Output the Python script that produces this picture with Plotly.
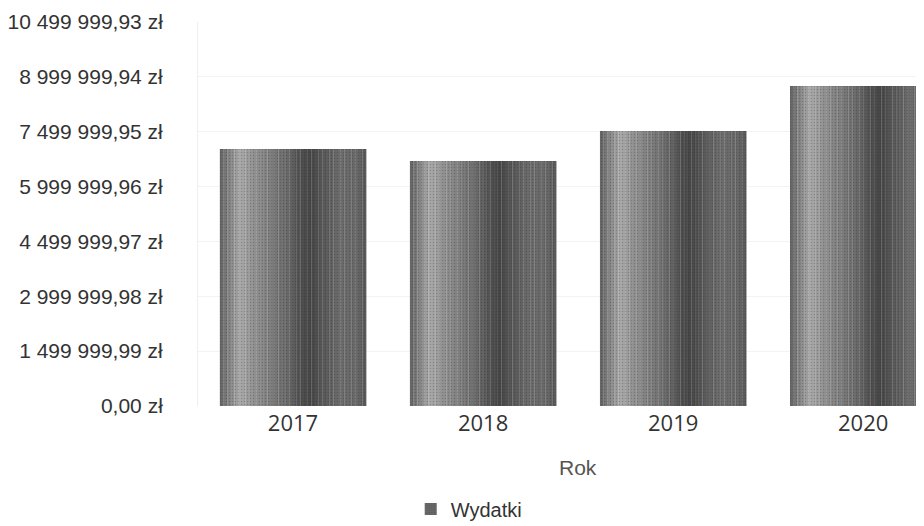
import plotly.graph_objects as go

years = ["2017", "2018", "2019", "2020"]
wydatki = [7030000, 6700000, 7520000, 8750000]
tick_vals = [0, 1499999.99, 2999999.98, 4499999.97, 5999999.96, 7499999.95, 8999999.94, 10499999.93]
tick_text = ["0,00 zł", "1 499 999,99 zł", "2 999 999,98 zł", "4 499 999,97 zł",
             "5 999 999,96 zł", "7 499 999,95 zł", "8 999 999,94 zł", "10 499 999,93 zł"]

# grey shading profile across each bar (position 0..1, grey level)
profile = [(0.0, 0x60), (0.06, 0x84), (0.14, 0xaa), (0.22, 0x94), (0.33, 0x80),
           (0.45, 0x6c), (0.55, 0x50), (0.62, 0x46), (0.70, 0x58), (0.82, 0x6c),
           (0.94, 0x68), (1.0, 0x58)]


def shade_at(t):
    for (a, ga), (b, gb) in zip(profile, profile[1:]):
        if a <= t <= b:
            return ga + (gb - ga) * (t - a) / (b - a)
    return profile[-1][1]


bar_w = 0.77
n = 40
strip = bar_w / n

fig = go.Figure()
for i in range(n):
    s = int(round(shade_at((i + 0.5) / n)))
    col = "#%02x%02x%02x" % (s, s, s)
    fig.add_trace(go.Bar(
        x=years, y=wydatki,
        width=strip * 1.05, offset=-bar_w / 2 + i * strip,
        marker=dict(color=col, line_width=0,
                    pattern=dict(shape=".", fgcolor="#202020", fgopacity=0.25,
                                 size=3, solidity=0.2)),
        name="Wydatki", legendgroup="w",
        showlegend=(i == 18),
        hoverinfo="skip",
    ))

# page body has an 8px margin, so the figure is sized to fit the window
fig.update_layout(
    width=916, height=518,
    margin=dict(l=190, r=0, t=14, b=120, autoexpand=False),
    barmode="overlay",
    plot_bgcolor="white", paper_bgcolor="white",
    font=dict(family="Liberation Sans, Arial, sans-serif", color="#333333"),
    showlegend=True,
    legend=dict(orientation="h", x=0.293, xanchor="left", y=-0.268, yanchor="middle",
                font=dict(size=20, color="#333333")),
    annotations=[dict(text="Rok", xref="paper", yref="paper", x=0.523, y=-0.161,
                      xanchor="center", yanchor="middle", showarrow=False,
                      font=dict(size=21, color="#555555"))],
)
fig.update_xaxes(
    range=[-0.5, 3.32], showgrid=False, showline=False, zeroline=False, automargin=False,
    tickfont=dict(family="Open Sans, sans-serif", size=22, color="#333333"),
    ticklabelstandoff=2,
)
fig.update_yaxes(
    range=[0, 10499999.93], tickvals=tick_vals, ticktext=tick_text, automargin=False,
    tickfont=dict(size=21, color="#333333"), ticklabelstandoff=30,
    showgrid=True, gridcolor="#f3f3f3", zeroline=False,
    showline=True, linecolor="#eeeeee",
)

fig.write_html("out.html")
